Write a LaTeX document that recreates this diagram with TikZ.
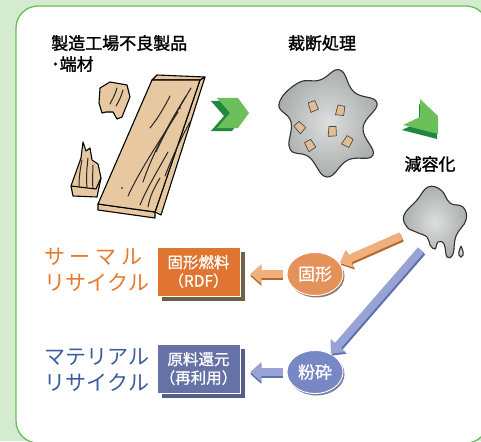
\documentclass[tikz,border=0pt]{standalone}
\usepackage{fontspec}
\setmainfont{Noto Sans CJK JP}
\newfontfamily\headfont{Noto Sans CJK JP}[FakeBold=1.6]
\newfontfamily\labelfont{Noto Sans CJK JP}[FakeBold=0.9]
\usetikzlibrary{arrows.meta,shapes.geometric,shadows}

\definecolor{mint}{HTML}{D5EBD0}
\definecolor{panelgreen}{HTML}{66BF55}
\definecolor{chevlight}{HTML}{6CC05C}
\definecolor{chevdark}{HTML}{1E8740}
\definecolor{woodtan}{HTML}{E8C8A0}
\definecolor{splatlight}{HTML}{DCDFDE}
\definecolor{splatdark}{HTML}{A9ADAC}
\definecolor{thermal}{HTML}{E37A2E}
\definecolor{thermalbox}{HTML}{DF7530}
\definecolor{thermalshadow}{HTML}{735E47}
\definecolor{thermalball}{HTML}{E5915A}
\definecolor{thermalarrow}{HTML}{F0B07E}
\definecolor{thermalarrowdk}{HTML}{B5672C}
\definecolor{material}{HTML}{3D5C9E}
\definecolor{materialbox}{HTML}{6572A6}
\definecolor{materialshadow}{HTML}{565F8C}
\definecolor{materialball}{HTML}{7888C5}
\definecolor{materialarrow}{HTML}{97A3D4}
\definecolor{materialarrowdk}{HTML}{5E6DAF}

\begin{document}
\begin{tikzpicture}[
  x=1pt,
  y=-1pt,
  heading/.style={font=\fontsize{17}{21}\selectfont\headfont, align=left, inner sep=0pt},
  route/.style={font=\fontsize{21}{26}\selectfont, align=left, inner sep=0pt, anchor=west},
  product/.style={
    rectangle,
    draw=white,
    line width=0.6pt,
    minimum width=83pt,
    minimum height=49pt,
    inner sep=0pt,
    text=white,
    align=center,
    font=\fontsize{15.5}{18.5}\selectfont\labelfont
  },
  process/.style={
    ellipse,
    draw=white,
    line width=0.9pt,
    minimum width=56pt,
    minimum height=43pt,
    inner sep=0pt,
    text=white,
    font=\fontsize{17}{20}\selectfont\labelfont
  },
  wood/.style={fill=woodtan, draw=black, line width=1.1pt, line join=round},
  grain/.style={draw=black!85, line width=1pt, line cap=round},
  splat/.style={draw=black!80, line width=1.1pt, inner color=splatlight, outer color=splatdark},
  chip/.style={fill=woodtan!85!brown, draw=black!70, line width=0.7pt, line join=round},
  fat/.style={line width=8pt, -{Triangle[length=11pt, width=19pt]}},
  chevron/.pic={\path[pic actions] (-16,-15) -- (5,-15) -- (16,0) -- (5,15) -- (-16,15) -- (-3,0) -- cycle;}
]

\useasboundingbox (0,0) rectangle (481,441);
\fill[mint] (0,0) rectangle (481,441);
\path[fill=white, draw=panelgreen, line width=1.3pt, rounded corners=22pt] (16,6) rectangle (488,443);

% ---------------------------------------------------------------------------
% Offcuts and rejected boards
% ---------------------------------------------------------------------------
\node[heading, anchor=north west] (source) at (51,35) {製造工場不良製品\\･端材};

% long board: end face, side face, top face
\path[wood] (98,204) -- (155,212) -- (155,218) -- (98,210) -- cycle;
\path[wood] (200,80) -- (205,77) -- (161,215) -- (155,212) -- cycle;
\path[wood] (152,80) -- (157,75) -- (205,77) -- (200,80) -- cycle;
\path[wood] (152,80) -- (200,80) -- (155,212) -- (98,204) -- cycle;
\draw[grain] (191,88) .. controls (178,110) and (166,130) .. (156,152);
\draw[grain] (186,96) .. controls (168,125) and (152,155) .. (143,182);
\draw[grain] (178,112) .. controls (160,140) and (140,170) .. (128,196);
\draw[grain] (190,122) .. controls (180,140) and (172,158) .. (165,176);
\draw[grain] (168,152) .. controls (158,170) and (147,188) .. (140,205);
\draw[grain] (160,178) .. controls (154,188) and (150,196) .. (148,207);
\draw[grain] (170,96) .. controls (164,108) and (158,118) .. (150,128);
\fill (180,108) circle (0.9);
\fill (122,188) circle (0.9);

% small block
\path[wood] (100,88) -- (110,82) -- (127,85) -- (130,97) -- (122,117)
  -- (117,119) -- (113,112) -- (106,112) -- (102,113) -- (99,103) -- cycle;
\draw[grain] (117,88) .. controls (115,95) and (112,100) .. (110,104);
\draw[grain] (123,90) .. controls (121,97) and (119,101) .. (116,106);

% splintered piece
\path[wood] (71,186) -- (76,172) -- (81,158) -- (83,142) -- (86,151) -- (90,148)
  -- (92,160) -- (98,164) -- (101,178) -- (97,197) -- (73,196) -- cycle;
\draw[wood] (71,186) -- (96,189) -- (101,178);
\draw[grain] (82,160) .. controls (80,170) and (79,178) .. (79,186);
\draw[grain] (88,158) .. controls (87,168) and (86,177) .. (87,187);
\draw[grain] (93,165) .. controls (93,172) and (92,180) .. (93,188);

% ---------------------------------------------------------------------------
% Cutting
% ---------------------------------------------------------------------------
\pic[fill=chevdark] at (227,116) {chevron};
\pic[fill=chevlight] at (233,113) {chevron};

\node[heading, anchor=north] (cutting) at (322,35) {裁断処理};
\path[splat] plot[smooth cycle, tension=0.75] coordinates {
  (279,104) (298,83) (320,80) (340,70) (354,92) (377,103) (363,128)
  (373,155) (348,160) (327,177) (309,157) (290,149) (291,122)};
\foreach \cx/\cy/\ang in {313/107/10, 340/111/-20, 300/128/35, 332/132/-10, 310/146/20, 347/142/-40}
  \path[chip, shift={(\cx,\cy)}, rotate=\ang] (-4,-5) -- (3,-6) -- (5,3) -- (-3,5) -- cycle;

% ---------------------------------------------------------------------------
% Volume reduction
% ---------------------------------------------------------------------------
\path[fill=chevdark] (419,104) -- (437,121) -- (437,139) -- (402,130) -- (419,122) -- cycle;
\path[fill=chevlight] (420,99) -- (438,116) -- (438,134) -- (403,125) -- (420,117) -- cycle;

\node[heading, anchor=north] (reduction) at (430,156) {減容化};
\path[splat] plot[smooth cycle, tension=0.7] coordinates {
  (404,215) (417,200) (428,187) (441,190) (450,203) (463,207) (466,220)
  (456,236) (453,254) (447,257) (444,244) (438,242) (435,249) (430,245)
  (427,237) (416,232) (407,227)};
\path[splat] (461,246) .. controls (463,251) and (465,255) .. (461,257)
  .. controls (457,255) and (459,251) .. (461,246);

% ---------------------------------------------------------------------------
% Recycling routes
% ---------------------------------------------------------------------------
\node[route, text=thermal] (thermal) at (44,270)
  {\makebox[98pt][s]{サ\hfill ー\hfill マ\hfill ル}\\\makebox[98pt][s]{リ\hfill サ\hfill イ\hfill ク\hfill ル}};
\node[route, text=material] (material) at (44,370)
  {\makebox[98pt][s]{マ\hfill テ\hfill リ\hfill ア\hfill ル}\\\makebox[98pt][s]{リ\hfill サ\hfill イ\hfill ク\hfill ル}};

\node[product, fill=thermalbox, drop shadow={shadow xshift=5pt, shadow yshift=-5pt, fill=thermalshadow, opacity=1}]
  (rdf) at (198.5,271.5) {固形燃料\\（RDF）};
\node[product, fill=materialbox, drop shadow={shadow xshift=5pt, shadow yshift=-5pt, fill=materialshadow, opacity=1}]
  (feedstock) at (198.5,368.5) {原料還元\\（再利用）};

\node[process, fill=thermalball, drop shadow={shadow xshift=1.5pt, shadow yshift=-2pt, fill=thermalshadow, opacity=0.8}]
  (solid) at (315,274) {固形};
\node[process, fill=materialball, drop shadow={shadow xshift=1.5pt, shadow yshift=-2pt, fill=materialshadow, opacity=0.8}]
  (crush) at (315,372) {粉砕};

\coordinate (drip-o) at (401,236);
\coordinate (drip-b) at (421,250);

\draw[fat, thermalarrowdk, transform canvas={shift={(1.2pt,-1.8pt)}}] (drip-o) -- (solid);
\draw[fat, thermalarrow] (drip-o) -- (solid);
\draw[fat, materialarrowdk, transform canvas={shift={(1.2pt,-1.8pt)}}] (drip-b) -- (crush);
\draw[fat, materialarrow] (drip-b) -- (crush);

\draw[fat, thermalarrowdk, shorten <=4pt, shorten >=10pt, transform canvas={shift={(0pt,-2pt)}}] (solid.west) -- (solid.west -| rdf.east);
\draw[fat, thermalarrow, shorten <=4pt, shorten >=10pt] (solid.west) -- (solid.west -| rdf.east);
\draw[fat, materialarrowdk, shorten <=4pt, shorten >=10pt, transform canvas={shift={(0pt,-2pt)}}] (crush.west) -- (crush.west -| feedstock.east);
\draw[fat, materialarrow, shorten <=4pt, shorten >=10pt] (crush.west) -- (crush.west -| feedstock.east);
\end{tikzpicture}
\end{document}
